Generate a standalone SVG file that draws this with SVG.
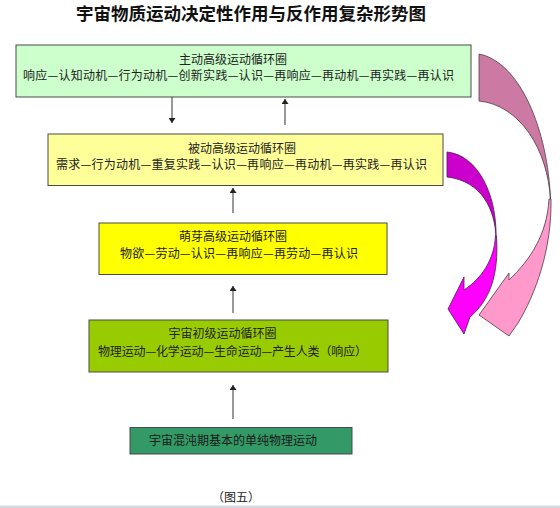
<svg xmlns="http://www.w3.org/2000/svg" width="560" height="508" viewBox="0 0 560 508">
<defs>
<marker id="ah" viewBox="0 0 10 10" refX="10" refY="5" markerWidth="5" markerHeight="7" markerUnits="userSpaceOnUse" orient="auto" preserveAspectRatio="none">
<path d="M0,0 L10,5 L0,10 Z" fill="#222"/>
</marker>
<style>
.t{font-family:"Noto Sans CJK SC","Noto Sans",sans-serif;font-size:12px;fill:#222;text-anchor:middle}
.box{stroke:#4a4a4a;stroke-width:1}
.con{stroke:#333;stroke-width:1;fill:none;marker-end:url(#ah)}
.arr{stroke:#4d3a44;stroke-width:0.8;stroke-linejoin:round}
</style>
</defs>
<rect width="560" height="508" fill="#ffffff"/>
<rect x="0" y="505.5" width="560" height="2.5" fill="#d6dbe3"/>
<text x="251" y="19.5" class="t" style="font-size:17.5px;font-weight:bold;fill:#111">宇宙物质运动决定性作用与反作用复杂形势图</text>

<g id="box1">
<rect class="box" x="16" y="45" width="455" height="52" fill="#ccffcc"/>
<text class="t" x="233" y="64">主动高级运动循环圈</text>
<text class="t" x="238.5" y="80" textLength="431" lengthAdjust="spacing">响应—认知动机—行为动机—创新实践—认识—再响应—再动机—再实践—再认识</text>
</g>
<g id="box2">
<rect class="box" x="48" y="134" width="395" height="51.5" fill="#ffff99"/>
<text class="t" x="242" y="152.5">被动高级运动循环圈</text>
<text class="t" x="241.5" y="168.5" textLength="371" lengthAdjust="spacing">需求—行为动机—重复实践—认识—再响应—再动机—再实践—再认识</text>
</g>
<g id="box3">
<rect class="box" x="99" y="223" width="288" height="51.5" fill="#ffff00"/>
<text class="t" x="233" y="241">萌芽高级运动循环圈</text>
<text class="t" x="239" y="258" textLength="238" lengthAdjust="spacing">物欲—劳动—认识—再响应—再劳动—再认识</text>
</g>
<g id="box4">
<rect class="box" x="89" y="320" width="299" height="52" fill="#99cc00"/>
<text class="t" x="222.5" y="338">宇宙初级运动循环圈</text>
<text class="t" x="232.5" y="356" textLength="269" lengthAdjust="spacing">物理运动—化学运动—生命运动—产生人类（响应）</text>
</g>
<g id="box5">
<rect class="box" x="130" y="427.5" width="222" height="26.5" fill="#339966"/>
<text class="t" x="233" y="445" style="fill:#1a1a1a">宇宙混沌期基本的单纯物理运动</text>
</g>
<text class="t" x="236" y="502">（图五）</text>

<g id="connectors">
<line class="con" x1="172" y1="97" x2="172" y2="123"/>
<line class="con" x1="285" y1="125" x2="285" y2="99"/>
<line class="con" x1="233" y1="213" x2="233" y2="188"/>
<line class="con" x1="233" y1="313" x2="233" y2="286"/>
<line class="con" x1="233" y1="419" x2="233" y2="385"/>
</g>

<g id="curved-arrows">
<path class="arr" d="M479,54 C520,62 548,130 550.5,200 C548,150 520,105 479,101 Z" fill="#cc79a3"/>
<path class="arr" d="M551,199 C552,250 535,295 518,323 L509,336 L479,315 L509,273 L509,280 C530,260 547,235 549,199 Z" fill="#ff99cc"/>
<path class="arr" d="M447,152 C478,155 497,195 496,237 C495,210 482,181 447,177 Z" fill="#cc00cc" style="stroke:#4a1a4a"/>
<path class="arr" d="M496.5,236 C499,275 490,300 470,317 L464,334 L448,309 L464,277 L464,290 C482,278 494,260 495.5,236 Z" fill="#ff00ff" style="stroke:#4a1a4a"/>
</g>
</svg>
